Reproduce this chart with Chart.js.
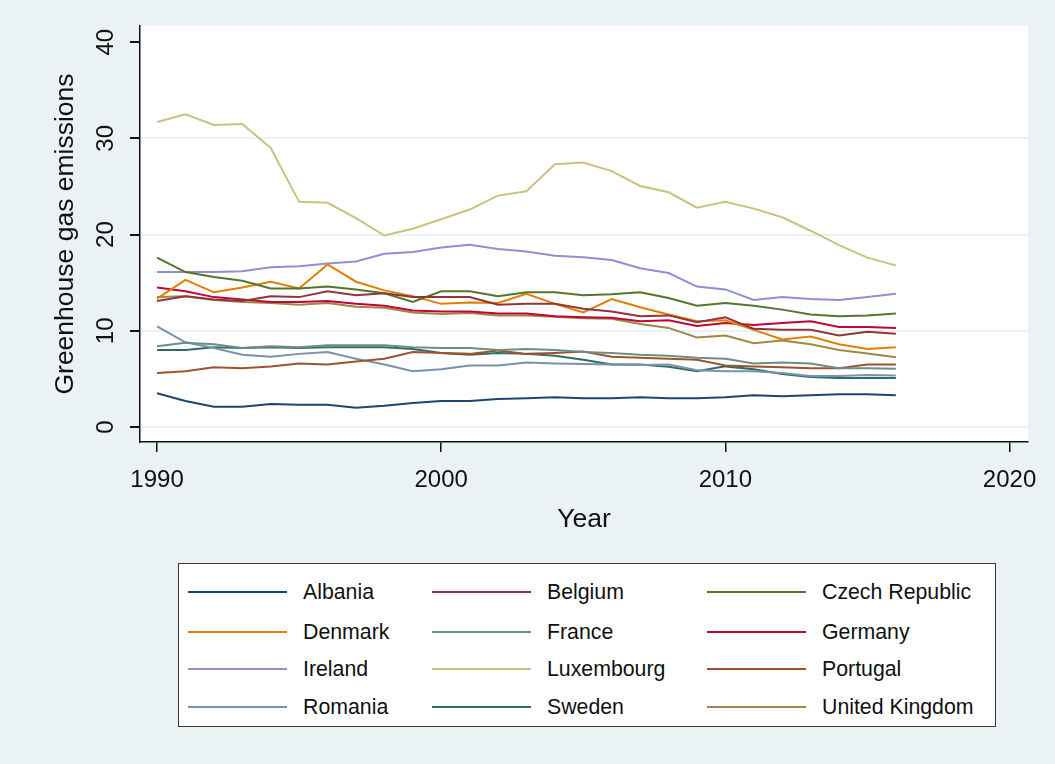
<!DOCTYPE html>
<html>
<head>
<meta charset="utf-8">
<script src="https://cdn.jsdelivr.net/npm/chart.js@4/dist/chart.umd.min.js"></script>
<style>
  html, body { margin: 0; padding: 0; background: #eaf2f3; }
  #wrap { position: relative; width: 1055px; height: 764px; }
  #legend {
    position: absolute; left: 178px; top: 563px; width: 818px; height: 164px;
    box-sizing: border-box; background: #fff; border: 1.5px solid #3a3a3a;
    font-family: "Liberation Sans", Arial, sans-serif; font-size: 21.3px; color: #111;
  }
  .item { position: absolute; height: 26px; display: flex; align-items: center; }
  .swatch { width: 99px; height: 0; border-top: 2.5px solid; margin-right: 16px; }
</style>
</head>
<body>
<div id="wrap">
  <canvas id="c" width="1055" height="764"></canvas>
  <div id="legend"></div>
</div>
<script>
// Greenhouse gas emissions per country, 1990-2016
const years = [1990, 1991, 1992, 1993, 1994, 1995, 1996, 1997, 1998, 1999, 2000, 2001, 2002,
  2003, 2004, 2005, 2006, 2007, 2008, 2009, 2010, 2011, 2012, 2013, 2014, 2015, 2016];

const albania = [3.5, 2.7, 2.1, 2.1, 2.4, 2.3, 2.3, 2.0, 2.2, 2.5, 2.7, 2.7, 2.9, 3.0, 3.1, 3.0, 3.0, 3.1, 3.0, 3.0, 3.1, 3.3, 3.2, 3.3, 3.4, 3.4, 3.3];
const belgium = [13.1, 13.6, 13.25, 13.1, 13.6, 13.5, 14.1, 13.7, 13.9, 13.5, 13.5, 13.5, 12.7, 12.8, 12.8, 12.3, 12.0, 11.5, 11.6, 10.9, 11.4, 10.2, 10.1, 10.1, 9.5, 9.9, 9.7];
const czechRepublic = [17.6, 16.1, 15.6, 15.2, 14.4, 14.4, 14.6, 14.3, 13.9, 13.0, 14.1, 14.1, 13.6, 14.0, 14.0, 13.7, 13.8, 14.0, 13.4, 12.6, 12.9, 12.6, 12.2, 11.7, 11.5, 11.6, 11.8];
const denmark = [13.35, 15.3, 14.0, 14.5, 15.1, 14.4, 16.9, 15.1, 14.2, 13.6, 12.8, 12.95, 12.9, 13.85, 12.8, 11.9, 13.3, 12.45, 11.7, 11.0, 11.1, 10.1, 9.1, 9.4, 8.6, 8.1, 8.3];
const france = [8.4, 8.75, 8.6, 8.2, 8.4, 8.3, 8.5, 8.5, 8.5, 8.3, 8.2, 8.2, 8.0, 8.1, 8.0, 7.8, 7.7, 7.5, 7.4, 7.2, 7.1, 6.6, 6.7, 6.6, 6.1, 6.1, 6.05];
const germany = [14.5, 14.1, 13.5, 13.25, 13.0, 13.0, 13.1, 12.8, 12.6, 12.1, 12.0, 12.0, 11.8, 11.8, 11.5, 11.4, 11.35, 11.0, 11.1, 10.5, 10.8, 10.6, 10.8, 11.0, 10.4, 10.4, 10.3];
const ireland = [16.1, 16.1, 16.1, 16.2, 16.6, 16.7, 17.0, 17.2, 18.0, 18.2, 18.65, 18.95, 18.5, 18.25, 17.8, 17.65, 17.35, 16.5, 16.0, 14.6, 14.3, 13.2, 13.5, 13.3, 13.2, 13.5, 13.85];
const luxembourg = [31.7, 32.5, 31.4, 31.5, 29.0, 23.4, 23.3, 21.7, 19.9, 20.6, 21.6, 22.6, 24.05, 24.5, 27.3, 27.5, 26.6, 25.05, 24.4, 22.8, 23.4, 22.7, 21.8, 20.4, 18.9, 17.6, 16.8];
const portugal = [5.6, 5.8, 6.2, 6.1, 6.3, 6.6, 6.5, 6.8, 7.1, 7.8, 7.7, 7.6, 7.95, 7.6, 7.7, 7.85, 7.3, 7.2, 7.1, 7.0, 6.4, 6.3, 6.2, 6.1, 6.1, 6.5, 6.5];
const romania = [10.45, 8.8, 8.2, 7.5, 7.3, 7.6, 7.8, 7.1, 6.5, 5.8, 6.0, 6.4, 6.4, 6.7, 6.6, 6.55, 6.5, 6.45, 6.5, 5.9, 5.8, 5.8, 5.6, 5.3, 5.3, 5.4, 5.35];
const sweden = [8.0, 8.0, 8.3, 8.2, 8.3, 8.2, 8.3, 8.3, 8.3, 8.1, 7.7, 7.5, 7.7, 7.6, 7.4, 7.0, 6.5, 6.5, 6.25, 5.8, 6.3, 6.0, 5.5, 5.2, 5.1, 5.1, 5.1];
const unitedKingdom = [13.5, 13.6, 13.2, 13.0, 12.9, 12.7, 12.9, 12.5, 12.4, 11.9, 11.75, 11.85, 11.6, 11.6, 11.45, 11.3, 11.25, 10.7, 10.3, 9.3, 9.5, 8.7, 9.0, 8.6, 8.0, 7.65, 7.25];

const countries = ["Albania", "Belgium", "Czech Republic", "Denmark", "France", "Germany",
  "Ireland", "Luxembourg", "Portugal", "Romania", "Sweden", "United Kingdom"];
const series = [albania, belgium, czechRepublic, denmark, france, germany,
  ireland, luxembourg, portugal, romania, sweden, unitedKingdom];

const xTicks = [1990, 2000, 2010, 2020];
const yTicks = [0, 10, 20, 30, 40];

// stata s2color order
const palette = ["#1a476f", "#90353b", "#55752f", "#e37e00", "#6e8e84", "#c10534",
  "#938dd2", "#cac27e", "#a0522d", "#7b92a8", "#2d6d66", "#9c8847"];

const FONT = '"Liberation Sans", Arial, sans-serif';

const plotBackground = {
  id: "plotBackground",
  beforeDraw(chart) {
    const { ctx, chartArea: a } = chart;
    ctx.save();
    ctx.fillStyle = "#ffffff";
    ctx.fillRect(a.left, a.top, a.right - a.left, a.bottom - a.top);
    ctx.restore();
  },
};

// y tick labels are drawn rotated, reading bottom to top
const verticalYLabels = {
  id: "verticalYLabels",
  afterDraw(chart) {
    const { ctx } = chart;
    const y = chart.scales.y;
    ctx.save();
    ctx.font = "24px " + FONT;
    ctx.fillStyle = "#111";
    ctx.textAlign = "center";
    ctx.textBaseline = "middle";
    for (const v of yTicks) {
      ctx.save();
      ctx.translate(y.right - 34, y.getPixelForValue(v));
      ctx.rotate(-Math.PI / 2);
      ctx.fillText(String(v), 0, 0);
      ctx.restore();
    }
    ctx.restore();
  },
};

new Chart(document.getElementById("c"), {
  type: "line",
  data: {
    labels: years,
    datasets: countries.map((name, i) => ({
      label: name,
      data: series[i],
      borderColor: palette[i],
      backgroundColor: palette[i],
      borderWidth: 2,
      pointRadius: 0,
      tension: 0,
    })),
  },
  options: {
    responsive: false,
    animation: false,
    layout: { padding: { left: 0, top: 26, right: 27, bottom: 219 } },
    plugins: { legend: { display: false }, tooltip: { enabled: false } },
    scales: {
      x: {
        type: "linear",
        min: 1989.4,
        max: 2020.65,
        afterBuildTicks: (s) => { s.ticks = xTicks.map((v) => ({ value: v })); },
        afterFit: (s) => { s.height = 103; },
        grid: { drawOnChartArea: false, tickLength: 10, tickColor: "#111", lineWidth: 1.5 },
        border: { color: "#111", width: 1.5 },
        ticks: { color: "#111", font: { family: FONT, size: 24 }, padding: 14, maxRotation: 0, callback: (v) => String(v) },
        title: { display: true, text: "Year", color: "#111", font: { family: FONT, size: 26.5 }, padding: { top: 0, bottom: 9 } },
      },
      y: {
        min: -1.56,
        max: 41.68,
        afterBuildTicks: (s) => { s.ticks = yTicks.map((v) => ({ value: v })); },
        afterFit: (s) => { s.width = 140; },
        grid: {
          color: (c) => (c.tick && c.tick.value === 40 ? "rgba(0,0,0,0)" : "#eaf2f3"),
          lineWidth: 2,
          tickLength: 10,
          tickColor: "#111",
        },
        border: { color: "#111", width: 1.5 },
        ticks: { display: false },
        title: { display: true, text: "Greenhouse gas emissions", color: "#111", font: { family: FONT, size: 26.5 }, padding: { top: 50, bottom: 0 } },
      },
    },
  },
  plugins: [plotBackground, verticalYLabels],
});

// legend: three columns, four rows
const legend = document.getElementById("legend");
const colLeft = [9, 253, 528];
const rowTop = [15, 55, 92, 130];
countries.forEach((name, i) => {
  const item = document.createElement("div");
  item.className = "item";
  item.style.left = colLeft[i % 3] + "px";
  item.style.top = rowTop[Math.floor(i / 3)] + "px";
  const sw = document.createElement("span");
  sw.className = "swatch";
  sw.style.borderTopColor = palette[i];
  const tx = document.createElement("span");
  tx.textContent = name;
  item.appendChild(sw);
  item.appendChild(tx);
  legend.appendChild(item);
});
</script>
</body>
</html>
